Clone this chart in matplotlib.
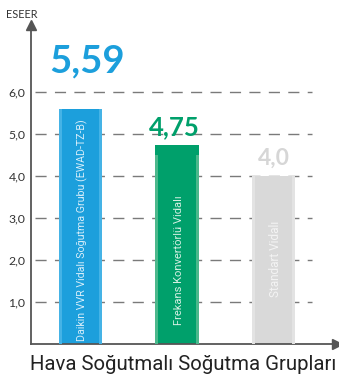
import matplotlib
matplotlib.use("Agg")
import matplotlib.pyplot as plt

categories = ["Daikin VVR Vidalı Soğutma Grubu (EWAD-TZ-B)",
              "Frekans Konvertörlü Vidalı",
              "Standart Vidalı"]
values = [5.59, 4.75, 4.0]
value_labels = ["5,59", "4,75", "4,0"]
yticks = [1.0, 2.0, 3.0, 4.0, 5.0, 6.0]
ytick_labels = ["1,0", "2,0", "3,0", "4,0", "5,0", "6,0"]
ylabel = "ESEER"
xlabel = "Hava Soğutmalı Soğutma Grupları"

bar_colors = ["#1c9fdc", "#00a06b", "#d9d9d9"]
edge_colors = ["#45b3e6", "#4cb88c", "#e3e3e3"]
label_colors = ["#1c9fdc", "#00a06b", "#d6d6d6"]
text_colors = ["#d8eefa", "#d6f0e4", "#f4f4f4"]
label_sizes = [27.5, 18.5, 16.5]

plt.rcParams['font.family'] = ['Lato', 'DejaVu Sans']

fig = plt.figure(figsize=(3.39, 3.76), dpi=100)
ax = fig.add_axes([31/339, 1-344/376, 306/339, 319/376])
ax.set_xlim(-0.513, 2.658)
ax.set_ylim(0, 319/42)
renderer = fig.canvas.get_renderer()


def fit(t, target_px, vertical=False):
    fs = t.get_fontsize()
    for _ in range(3):
        bb = t.get_window_extent(renderer)
        cur = bb.height if vertical else bb.width
        fs = fs * target_px / cur
        t.set_fontsize(fs)


x = list(range(len(values)))
w = 0.446
# gridlines
for t in yticks:
    ax.hlines(t, -0.47, 2.40, colors="#7a7a7a", linewidth=1.0,
              linestyles=(0, (8, 6)), zorder=1)

ax.bar(x, values, width=w, color=bar_colors, zorder=2, linewidth=0)
# lighter edge stripes
sw = 0.03
for i, v in enumerate(values):
    top = v if i != 1 else v - 0.26
    ax.bar(i - w/2 + sw/2, top, width=sw, color=edge_colors[i], zorder=3, linewidth=0)
    ax.bar(i + w/2 - sw/2, top, width=sw, color=edge_colors[i], zorder=3, linewidth=0)

# value labels
offsets = [0.72, 0.12, 0.17]
xoff = [0.07, -0.03, 0.0]
for i, v in enumerate(values):
    ax.text(i + xoff[i], v + offsets[i], value_labels[i], ha="center", va="bottom",
            fontsize=label_sizes[i], fontweight="bold", color=label_colors[i], zorder=4)

# rotated labels inside bars
bottoms = [0.07, 0.45, 1.12]
inner_len = [222, 131, 77]
for i, c in enumerate(categories):
    t = ax.text(i + 0.02, bottoms[i], c, rotation=90, ha="center", va="bottom",
                fontsize=7.0, color=text_colors[i], zorder=4,
                family=["Roboto", "DejaVu Sans"])
    fit(t, inner_len[i], vertical=True)

# axes styling
for s in ["top", "right"]:
    ax.spines[s].set_visible(False)
ax.spines["left"].set_color("#555555")
ax.spines["bottom"].set_color("#555555")
ax.spines["left"].set_linewidth(1.3)
ax.spines["bottom"].set_linewidth(1.3)
ax.set_xticks([])
ax.set_yticks(yticks)
ax.set_yticklabels(ytick_labels, fontsize=8.8, color="#333333")
ax.tick_params(axis="y", length=0, pad=4)

# arrows
ax.plot(1, 0, ">", transform=ax.transAxes, color="#555555", markersize=7, clip_on=False)
ax.plot(0, 1, "^", transform=ax.transAxes, color="#555555", markersize=7, clip_on=False)

fig.text(6/339, 1-15/376, ylabel, fontsize=7.8, color="#333333", va="center", ha="left")
xl = fig.text(183/339, 1-364/376, xlabel, fontsize=14.2, color="#222222", va="center",
              ha="center", family=["Roboto", "DejaVu Sans"])
fit(xl, 308)

fig.savefig("out.png", dpi=100)
